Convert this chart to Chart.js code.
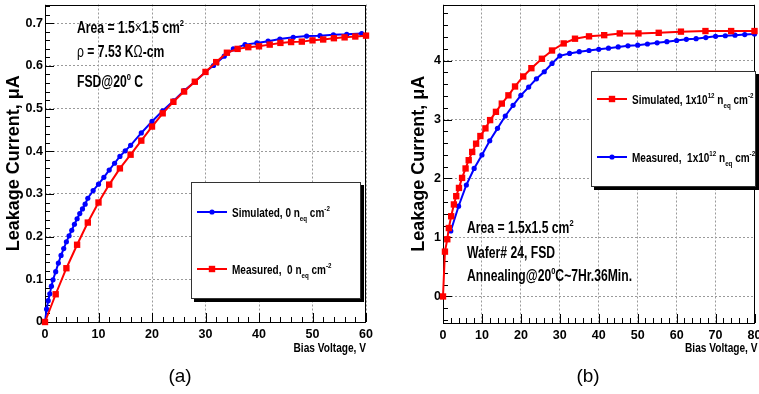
<!DOCTYPE html>
<html><head><meta charset="utf-8">
<script src="https://cdn.jsdelivr.net/npm/chart.js@4.4.0/dist/chart.umd.min.js"></script>
<style>
html,body{margin:0;padding:0;background:#fff;}
#wrap{position:relative;width:759px;height:394px;overflow:hidden;background:#fff;}
.pane{position:absolute;top:0;height:394px;}
#pa{left:0;width:380px;} #pb{left:380px;width:379px;}
.cap{position:absolute;top:365px;font:19px "Liberation Sans",Arial,sans-serif;color:#000;transform:translateX(-50%);white-space:nowrap;}
#la{left:180px;} #lb{left:588px;}
</style></head><body>
<div id="wrap">
<div class="pane" id="pa"><canvas id="ca" width="380" height="394"></canvas></div>
<div class="pane" id="pb"><canvas id="cb" width="379" height="394"></canvas></div>
<div class="cap" id="la">(a)</div><div class="cap" id="lb">(b)</div>
</div>
<script>
// ---------- Data: panel (a) ----------
const aSimV = [0,0.3,0.6,0.9,1.2,1.5,2,2.5,3,3.5,4,4.5,5,5.5,6,6.5,7,7.5,8,9,10,11,12,13,14,15,16,18,20,22,24,26,28,30,31.5,33.5,35.2,37.4,39.6,41.7,43.9,46.4,48.9,51.4,53.9,56.4,59.2];
const aSimI = [0,0.03,0.05,0.066,0.084,0.099,0.118,0.138,0.156,0.172,0.188,0.202,0.215,0.229,0.242,0.254,0.265,0.276,0.29,0.308,0.323,0.339,0.356,0.372,0.388,0.401,0.414,0.443,0.47,0.495,0.518,0.542,0.563,0.586,0.601,0.623,0.64,0.65,0.654,0.658,0.663,0.667,0.67,0.671,0.673,0.674,0.676];
const aMeasV = [0,2,4,6,8,10,12,14,16,18,20,22,24,26,28,30,32,34,36,38,40,42,44,46,48,50,52,54,56,58,60];
const aMeasI = [0,0.065,0.126,0.181,0.233,0.28,0.322,0.36,0.392,0.425,0.458,0.489,0.516,0.54,0.563,0.586,0.609,0.631,0.64,0.644,0.646,0.65,0.654,0.656,0.657,0.66,0.662,0.665,0.667,0.669,0.671];
const aXTicks = [0,10,20,30,40,50,60];
const aYTicks = [0,0.1,0.2,0.3,0.4,0.5,0.6,0.7];
// ---------- Data: panel (b) ----------
const bSimV = [0,0.5,1.1,1.5,2.1,2.8,3.4,4.1,4.9,5.8,6.6,7.5,8.5,9.6,10.9,12.1,13.6,15.1,16.8,18.5,20.6,22.7,25.4,28,31,33.9,37.5,41.4,45.4,50.2,55.4,61.1,67.4,74,80];
const bSimI = [0,0.76,0.97,1.16,1.36,1.56,1.7,1.84,2.01,2.17,2.31,2.45,2.59,2.72,2.85,2.99,3.13,3.27,3.41,3.56,3.73,3.87,4.03,4.17,4.29,4.37,4.41,4.43,4.46,4.46,4.47,4.49,4.5,4.5,4.5];
const bMeasV = [2,4,6,8,10,12,14,16,18,20,22,24,26,28,30,32.5,35,37.5,40,42.5,45,47.5,50,52.5,55,57.5,60,62.5,65,67.5,70,72.5,75,77.5,80];
const bMeasI = [1.11,1.53,1.89,2.17,2.4,2.64,2.85,3.06,3.24,3.41,3.55,3.69,3.81,3.95,4.08,4.12,4.15,4.17,4.19,4.21,4.23,4.25,4.26,4.28,4.3,4.32,4.34,4.36,4.37,4.39,4.41,4.42,4.43,4.44,4.45];
const bXTicks = [0,10,20,30,40,50,60,70,80];
const bYTicks = [0,1,2,3,4];

const SANS = "'Liberation Sans',Arial,sans-serif";
const BLUE = '#0000ff', RED = '#ff0000';

function pts(xs, ys) { return xs.map((v, i) => ({x: v, y: ys[i]})); }

// rich text, drawn condensed horizontally by factor sx
function rich(ctx, x, y, segs, size, sx, align) {
  ctx.save();
  ctx.textBaseline = 'alphabetic'; ctx.textAlign = 'left'; ctx.fillStyle = '#000';
  const parts = segs.map(s => {
    let sz = size, dy = 0;
    if (s.sup) { sz = size * 0.62; dy = -size * 0.45; }
    if (s.sub) { sz = size * 0.62; dy = size * 0.3; }
    const font = (s.normal ? '' : 'bold ') + sz + 'px ' + SANS;
    ctx.font = font;
    return {t: s.t, font, dy, w: ctx.measureText(s.t).width};
  });
  const total = parts.reduce((a, p) => a + p.w, 0);
  ctx.translate(align === 'right' ? x - total * sx : x, y);
  ctx.scale(sx, 1);
  let cx = 0;
  for (const p of parts) { ctx.font = p.font; ctx.fillText(p.t, cx, p.dy); cx += p.w; }
  ctx.restore();
}

const decor = {
  id: 'decor',
  beforeDatasetsDraw(chart, args, o) {
    const {ctx, chartArea: a, scales: {x, y}} = chart;
    ctx.save();
    ctx.strokeStyle = '#000'; ctx.lineWidth = 1;
    ctx.beginPath();
    const nx = Math.round((x.max - x.min) / o.xMinor);
    for (let i = 0; i <= nx; i++) {
      const v = x.min + i * o.xMinor;
      const px = Math.round(x.getPixelForValue(v)) + 0.5;
      const major = i % o.xDiv === 0;
      ctx.moveTo(px, a.bottom); ctx.lineTo(px, a.bottom - (major ? 9 : 5));
    }
    const i0 = Math.ceil(y.min / o.yMinor - 1e-6), i1 = Math.floor(y.max / o.yMinor + 1e-6);
    for (let i = i0; i <= i1; i++) {
      const v = i * o.yMinor;
      const py = Math.round(y.getPixelForValue(v)) + 0.5;
      const major = ((i % o.yDiv) + o.yDiv) % o.yDiv === 0;
      ctx.moveTo(a.left, py); ctx.lineTo(a.left + (major ? 9 : 5), py);
    }
    ctx.stroke();
    ctx.strokeRect(Math.round(a.left) + 0.5, Math.round(a.top) + 0.5, Math.round(a.width) - 1, Math.round(a.height) - 1);
    ctx.restore();
  },
  afterDatasetsDraw(chart, args, o) {
    const {ctx, chartArea: a} = chart;
    ctx.save();
    const L = o.legend;
    ctx.fillStyle = '#000';
    ctx.fillRect(L.x + 3, L.y + 3, L.w, L.h);
    ctx.fillStyle = '#fff';
    ctx.fillRect(L.x, L.y, L.w, L.h);
    ctx.strokeStyle = '#333'; ctx.lineWidth = 1;
    ctx.strokeRect(L.x + 0.5, L.y + 0.5, L.w - 1, L.h - 1);
    for (const e of L.entries) {
      ctx.strokeStyle = e.color; ctx.fillStyle = e.color; ctx.lineWidth = 2;
      ctx.beginPath(); ctx.moveTo(e.x0, e.y); ctx.lineTo(e.x1, e.y); ctx.stroke();
      const cx = (e.x0 + e.x1) / 2;
      if (e.marker === 'rect') ctx.fillRect(cx - 3.2, e.y - 3.2, 6.4, 6.4);
      else { ctx.beginPath(); ctx.arc(cx, e.y, 2.6, 0, Math.PI * 2); ctx.fill(); }
      rich(ctx, e.tx, e.y + 5, e.segs, 13, 0.77);
    }
    for (const n of o.notes) rich(ctx, n.x, n.y, n.segs, 16, 0.76);
    // x axis title, right aligned at the end of the axis
    rich(ctx, a.right + o.xTitleDx, 352, [{t: 'Bias Voltage, V'}], 13, 0.78, 'right');
    ctx.restore();
  }
};

function makeChart(id, p) {
  const tickFont = {family: SANS, weight: 'bold', size: 12.5};
  return new Chart(document.getElementById(id), {
    type: 'scatter',
    data: {datasets: p.datasets.map(d => ({
      data: d.data, borderColor: d.color, backgroundColor: d.color, showLine: true,
      borderWidth: 2, tension: 0, pointStyle: d.marker, pointRadius: d.marker === 'rect' ? 4.5 : 2.6,
      pointBorderWidth: 0, clip: false
    }))},
    options: {
      responsive: false, animation: false, events: [],
      layout: {padding: p.pad},
      plugins: {legend: {display: false}, tooltip: {enabled: false}, decor: p.decor},
      scales: {
        x: {
          type: 'linear', min: p.xMin, max: p.xMax,
          afterBuildTicks: s => { s.ticks = p.xTicks.map(v => ({value: v})); },
          afterFit: s => { s.height = p.xH; s.paddingLeft = 0; s.paddingRight = 0; },
          ticks: {font: tickFont, color: '#000', padding: 5, maxRotation: 0, autoSkip: false, callback: v => String(v)},
          grid: {color: '#9a9a9a', lineWidth: 1, drawTicks: false},
          border: {display: false, dash: [2, 2]}
        },
        y: {
          type: 'linear', min: p.yMin, max: p.yMax,
          afterBuildTicks: s => { s.ticks = p.yTicks.map(v => ({value: v})); },
          afterFit: s => { s.width = p.yW; s.paddingTop = 0; s.paddingBottom = 0; },
          ticks: {font: tickFont, color: '#000', padding: 2, autoSkip: false, callback: p.yFmt},
          grid: {color: '#9a9a9a', lineWidth: 1, drawTicks: false},
          border: {display: false, dash: [2, 2]},
          title: {display: true, text: 'Leakage Current, \u03bcA', color: '#000',
            font: {family: SANS, weight: 'bold', size: 18}, padding: {top: p.yTitlePad, bottom: 0}}
        }
      }
    },
    plugins: [decor]
  });
}

makeChart('ca', {
  xMin: 0, xMax: 60, yMin: 0, yMax: 0.744, xTicks: aXTicks, yTicks: aYTicks,
  yFmt: v => v === 0 ? '0' : v.toFixed(1),
  pad: {left: 0, right: 14, top: 3, bottom: 0}, xH: 72, yW: 45, yTitlePad: 3,
  datasets: [
    {data: pts(aMeasV, aMeasI), color: RED, marker: 'rect'},
    {data: pts(aSimV, aSimI), color: BLUE, marker: 'circle'}
  ],
  decor: {
    xMinor: 2, xDiv: 5, yMinor: 0.02, yDiv: 5, xTitleDx: 0,
    legend: {x: 191, y: 182, w: 170, h: 117, entries: [
      {x0: 197, x1: 227, y: 212, tx: 232, color: BLUE, marker: 'circle',
        segs: [{t: 'Simulated, 0 n'}, {t: 'eq', sub: true}, {t: ' cm'}, {t: '-2', sup: true}]},
      {x0: 197, x1: 227, y: 269, tx: 232, color: RED, marker: 'rect',
        segs: [{t: 'Measured,  0 n'}, {t: 'eq', sub: true}, {t: ' cm'}, {t: '-2', sup: true}]}
    ]},
    notes: [
      {x: 77, y: 33, segs: [{t: 'Area = 1.5'}, {t: '\u00d7', normal: true}, {t: '1.5 cm'}, {t: '2', sup: true}]},
      {x: 77, y: 57, segs: [{t: '\u03c1', normal: true}, {t: ' = 7.53 K'}, {t: '\u03a9', normal: true}, {t: '-cm'}]},
      {x: 77, y: 87, segs: [{t: 'FSD@20'}, {t: '0', sup: true}, {t: ' C'}]}
    ]
  }
});

makeChart('cb', {
  xMin: 0, xMax: 80, yMin: -0.45, yMax: 4.95, xTicks: bXTicks, yTicks: bYTicks,
  yFmt: v => String(v),
  pad: {left: 0, right: 2, top: 1, bottom: 0}, xH: 71, yW: 63, yTitlePad: 28,
  datasets: [
    {data: pts(bSimV, bSimI), color: RED, marker: 'rect'},
    {data: pts(bMeasV, bMeasI), color: BLUE, marker: 'circle'}
  ],
  decor: {
    xMinor: 2, xDiv: 5, yMinor: 0.2, yDiv: 5, xTitleDx: 3,
    legend: {x: 211, y: 71, w: 165, h: 116, entries: [
      {x0: 217, x1: 247, y: 99, tx: 252, color: RED, marker: 'rect',
        segs: [{t: 'Simulated, 1x10'}, {t: '12', sup: true}, {t: ' n'}, {t: 'eq', sub: true}, {t: ' cm'}, {t: '-2', sup: true}]},
      {x0: 217, x1: 247, y: 157, tx: 252, color: BLUE, marker: 'circle',
        segs: [{t: 'Measured,  1x10'}, {t: '12', sup: true}, {t: ' n'}, {t: 'eq', sub: true}, {t: ' cm'}, {t: '-2', sup: true}]}
    ]},
    notes: [
      {x: 87, y: 233, segs: [{t: 'Area = 1.5x1.5 cm'}, {t: '2', sup: true}]},
      {x: 87, y: 258, segs: [{t: 'Wafer# 24, FSD'}]},
      {x: 87, y: 281, segs: [{t: 'Annealing@20'}, {t: '0', sup: true}, {t: 'C~7Hr.36Min.'}]}
    ]
  }
});
</script>
</body></html>
